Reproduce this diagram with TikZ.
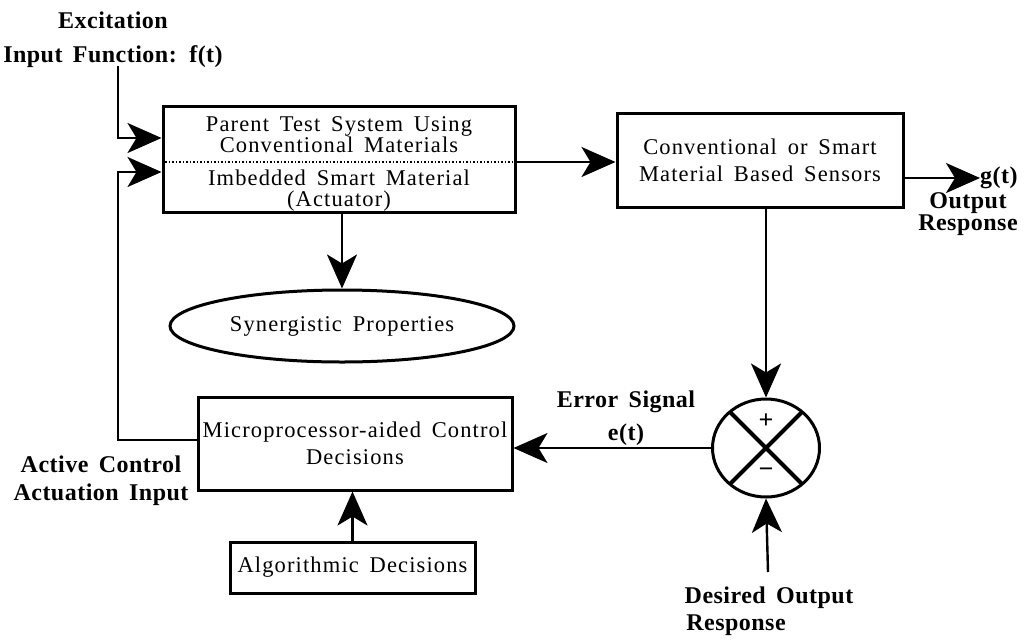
\documentclass[tikz,border=0pt]{standalone}
\usepackage{fontspec}
\setmainfont{Liberation Serif}
\newfontfamily\boxfont[LetterSpace=5,WordSpace=1.6]{Liberation Serif}
\newfontfamily\labfont[LetterSpace=2,WordSpace=1.6]{Liberation Serif}
\usetikzlibrary{arrows.meta,shapes.geometric}

\tikzset{
  blk/.style={draw, line width=3pt, rectangle, inner sep=0pt,
    font=\boxfont\fontsize{22.5}{27}\selectfont, align=center},
  boxtext/.style={font=\boxfont\fontsize{22.5}{21}\selectfont, align=center, inner sep=0pt},
  lab/.style={font=\labfont\bfseries\fontsize{24}{28}\selectfont, align=center, inner sep=0pt},
  conn/.style={line width=2.4pt, -{Stealth[length=34pt,width=30pt,inset=9pt]}},
}

\begin{document}
\begin{tikzpicture}[x=1pt, y=-1pt]
\useasboundingbox (0,0) rectangle (1032,640);

% plant: parent system with imbedded actuator
\node[blk, minimum width=352pt, minimum height=106pt] (parent) at (339,159) {};
\draw[line width=1.5pt, dotted] ([yshift=-3pt]parent.west) -- ([yshift=-3pt]parent.east);
\node[boxtext] (ptop) at (339,135) {Parent Test System Using\\Conventional Materials};
\node[boxtext] (pbot) at (339,191) {Imbedded Smart Material\\(Actuator)};

% sensors
\node[blk, minimum width=286pt, minimum height=94pt] (sens) at (760,160)
  {Conventional or Smart\\Material Based Sensors};

% synergistic properties
\node[draw, ellipse, line width=3pt, minimum width=344pt, minimum height=72pt,
  inner sep=0pt, font=\boxfont\fontsize{22.5}{27}\selectfont] (syn) at (342,326)
  {Synergistic Properties};

% controller and algorithm
\node[blk, minimum width=314pt, minimum height=93pt] (micro) at (355,443.5)
  {Microprocessor-aided Control\\Decisions};
\node[blk, minimum width=245pt, minimum height=51pt] (algo) at (352.5,567.5)
  {Algorithmic Decisions};

% summing junction
\node[draw, ellipse, line width=3pt, minimum width=107pt, minimum height=98pt,
  inner sep=0pt] (sum) at (766,448) {};
\draw[line width=4pt, shorten <=1.5pt, shorten >=1.5pt] (sum.135) -- (sum.-45);
\draw[line width=4pt, shorten <=1.5pt, shorten >=1.5pt] (sum.45) -- (sum.-135);
\node[font=\bfseries\fontsize{26}{26}\selectfont, inner sep=0pt] (plus) at (766,421) {+};
\node[font=\bfseries\fontsize{26}{26}\selectfont, inner sep=0pt] (minus) at (766,473) {−};

% labels
\node[lab, font=\labfont\bfseries\fontsize{24}{34}\selectfont] (exclab) at (113,40)
  {Excitation\\Input Function: f(t)};
\node[lab, anchor=west] (g) at (980,178) {g(t)};
\node[lab, font=\labfont\bfseries\fontsize{24}{22}\selectfont] (outresp) at (968,214)
  {Output\\Response};
\node[lab] (actlab) at (101,481) {Active Control\\Actuation Input};
\node[lab, font=\labfont\bfseries\fontsize{24}{33}\selectfont] (errlab) at (626,418)
  {Error Signal\\e(t)};
\node[lab, font=\labfont\bfseries\fontsize{24}{27}\selectfont] (deslab) at (769,611)
  {Desired Output\\Response\hspace*{66pt}};

% connectors
\coordinate (exc) at (118,66);
\coordinate (fbk) at (118,440);
\coordinate (desin) at (768,572);
\draw[conn] (exc) |- ([yshift=21pt]parent.west);
\draw[conn] ([yshift=3.5pt]micro.west) -- (fbk) |- ([yshift=-13pt]parent.west);
\draw[conn] (syn.north |- parent.south) -- (syn.north);
\draw[conn] ([yshift=-3pt]parent.east) -- ([yshift=-3pt]parent.east -| sens.west);
\draw[conn] (g.west -| sens.east) -- (g.west);
\draw[conn] (sum.north |- sens.south) -- (sum.north);
\draw[conn] (sum.west) -- (sum.west -| micro.east);
\draw[conn] (desin) -- (sum.south);
\draw[conn] (algo.north) -- (algo.north |- micro.south);
\end{tikzpicture}
\end{document}
